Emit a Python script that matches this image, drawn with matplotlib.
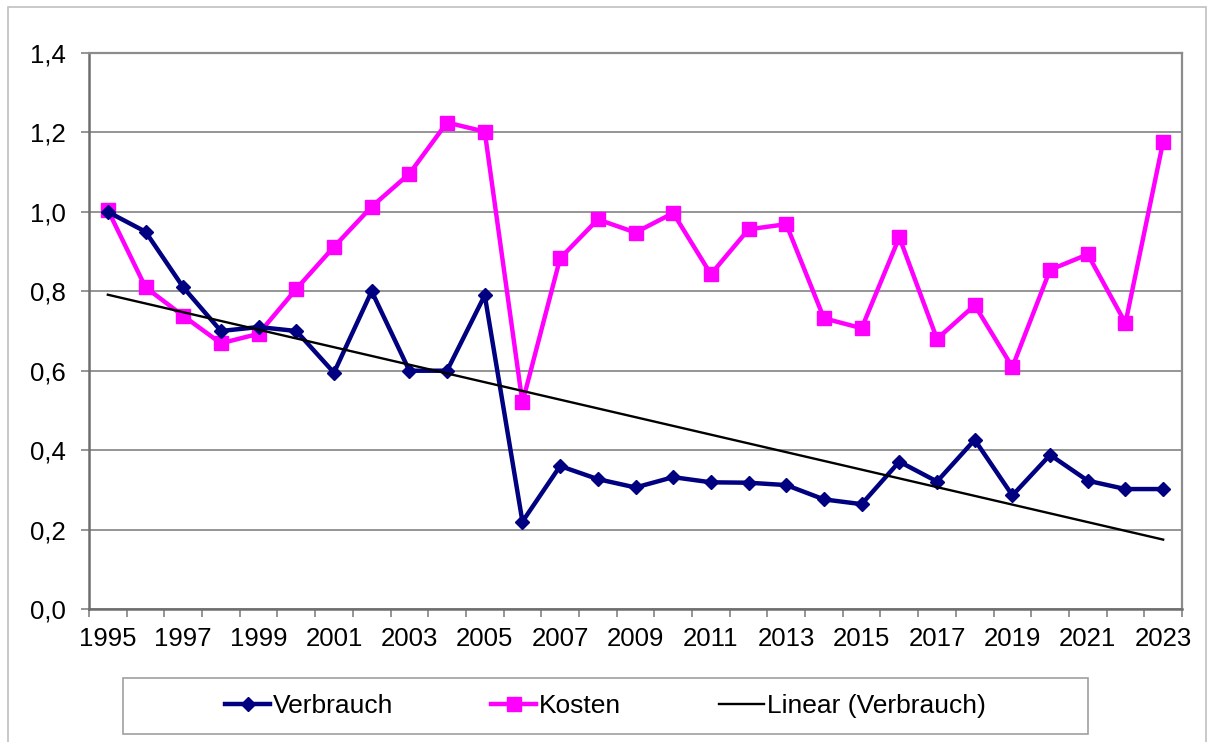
import numpy as np
import matplotlib
matplotlib.use("Agg")
import matplotlib.pyplot as plt
from matplotlib.patches import Rectangle
from matplotlib.lines import Line2D

plt.rcParams["font.family"] = ["Liberation Sans", "DejaVu Sans"]

years = list(range(1995, 2024))
verbrauch = [1.00, 0.95, 0.81, 0.70, 0.71, 0.70, 0.595, 0.80, 0.60, 0.60,
             0.79, 0.22, 0.36, 0.327, 0.306, 0.332, 0.319, 0.318, 0.312,
             0.276, 0.264, 0.371, 0.321, 0.426, 0.286, 0.388, 0.323, 0.302,
             0.302]
kosten = [1.005, 0.81, 0.738, 0.669, 0.693, 0.806, 0.912, 1.013, 1.096,
          1.225, 1.202, 0.52, 0.883, 0.981, 0.948, 0.997, 0.843, 0.956,
          0.969, 0.732, 0.707, 0.936, 0.68, 0.765, 0.609, 0.854, 0.893,
          0.72, 1.177]
y_ticks = [0.0, 0.2, 0.4, 0.6, 0.8, 1.0, 1.2, 1.4]

W, H = 1208, 742
fig = plt.figure(figsize=(W / 100, H / 100), dpi=100)

# plot area in pixel coordinates
L, R, T, B = 89, 1182, 53, 609
ax = fig.add_axes([L / W, 1 - B / H, (R - L) / W, (B - T) / H])

x = np.arange(len(years))
NAVY = "#000080"
MAG = "#FF00FF"
GRID = "#8c8c8c"
LW = 3.2

ax.plot(x, kosten, color=MAG, lw=LW, marker="s", ms=10, mew=1,
        mec=MAG, mfc=MAG, zorder=3, label="Kosten")
ax.plot(x, verbrauch, color=NAVY, lw=LW, marker="D", ms=7.5, mew=1,
        mec=NAVY, mfc=NAVY, zorder=4, label="Verbrauch")

# linear trend of consumption over the category index
coef = np.polyfit(x + 1, verbrauch, 1)
trend = np.polyval(coef, x + 1)
ax.plot(x, trend, color="black", lw=1.7, zorder=5, label="Linear (Verbrauch)")

ax.set_xlim(-0.5, len(years) - 0.5)
ax.set_ylim(0, 1.4)
ax.set_yticks(y_ticks)
ax.set_yticklabels([f"{v:.1f}".replace(".", ",") for v in y_ticks])
ax.yaxis.grid(True, color=GRID, lw=1.3)
ax.set_axisbelow(True)

# category boundaries carry the tick marks, labels sit on every second year
ax.set_xticks(np.arange(-0.5, len(years), 1.0), minor=True)
ax.set_xticks(x[::2])
ax.set_xticklabels([str(y) for y in years[::2]])
ax.tick_params(axis="x", which="major", length=0, pad=13, labelsize=18.5)
ax.tick_params(axis="x", which="minor", length=6, width=1.3, color=GRID)
ax.tick_params(axis="y", length=6, width=1.3, color=GRID, pad=11,
               labelsize=18.5)

for side in ["top", "right"]:
    ax.spines[side].set_color(GRID)
    ax.spines[side].set_linewidth(1.6)
for side in ["left", "bottom"]:
    ax.spines[side].set_color("#6e6e6e")
    ax.spines[side].set_linewidth(1.8)

# outer chart frame
fig.patches.append(Rectangle((8 / W, -0.05), (1206 - 8) / W, 1.05 - 7 / H,
                             transform=fig.transFigure, fill=False,
                             ec="#c0c0c0", lw=1.2))
# legend frame
fig.patches.append(Rectangle((123 / W, 1 - 734 / H), (1088 - 123) / W,
                             (734 - 678) / H, transform=fig.transFigure,
                             fill=False, ec="#a0a0a0", lw=1.2))

handles = [
    Line2D([], [], color=NAVY, lw=LW, marker="D", ms=7.5, mec=NAVY, mfc=NAVY),
    Line2D([], [], color=MAG, lw=LW, marker="s", ms=10, mec=MAG, mfc=MAG),
    Line2D([], [], color="black", lw=1.7),
]
fig.legend(handles, ["Verbrauch", "Kosten", "Linear (Verbrauch)"],
           loc="center", bbox_to_anchor=(605.5 / W, 1 - 706 / H), ncol=3,
           frameon=False, fontsize=19, handlelength=1.7,
           handletextpad=0.12, columnspacing=3.7, borderpad=0)

fig.savefig("out.png", dpi=100)
